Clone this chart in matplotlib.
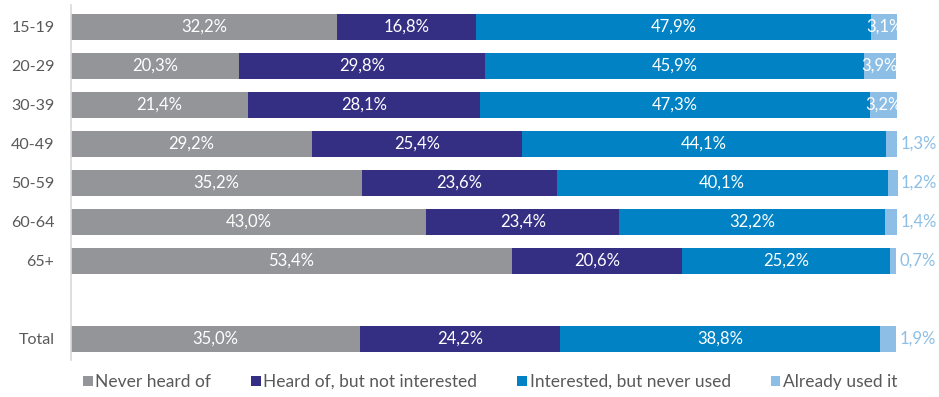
import numpy as np
import matplotlib
matplotlib.use('Agg')
import matplotlib.pyplot as plt
from matplotlib.patches import Patch

plt.rcParams['font.family'] = ['Lato', 'DejaVu Sans']

Categories = ['15-19', '20-29', '30-39', '40-49', '50-59', '60-64', '65+', '', 'Total']
NeverHeard = [32.2, 20.3, 21.4, 29.2, 35.2, 43.0, 53.4, 0, 35.0]
NotInterested = [16.8, 29.8, 28.1, 25.4, 23.6, 23.4, 20.6, 0, 24.2]
NeverUsed = [47.9, 45.9, 47.3, 44.1, 40.1, 32.2, 25.2, 0, 38.8]
AlreadyUsed = [3.1, 3.9, 3.2, 1.3, 1.2, 1.4, 0.7, 0, 1.9]
SeriesNames = ['Never heard of', 'Heard of, but not interested', 'Interested, but never used', 'Already used it']
Colors = ['#939598', '#352F84', '#0082C4', '#8DBFE6']

fig = plt.figure(figsize=(9.39, 3.97), dpi=100)
ax = fig.add_axes([71/939, 1-360/397, 1-71/939, 355/397])

y = np.arange(len(Categories))
left = np.zeros(len(Categories))
for i, vals in enumerate([NeverHeard, NotInterested, NeverUsed, AlreadyUsed]):
    vals = np.array(vals)
    ax.barh(y, vals, left=left, height=0.66, color=Colors[i], edgecolor='none')
    for j, v in enumerate(vals):
        if v == 0:
            continue
        lab = ('%.1f%%' % v).replace('.', ',')
        if i < 3 or v >= 3:
            ax.text(left[j] + v/2, y[j], lab, ha='center', va='center', color='white', fontsize=12)
        else:
            ax.text(left[j] + v + 0.4, y[j], lab, ha='left', va='center', color=Colors[3], fontsize=12)
    left += vals

ax.set_ylim(8.54, -0.56)
ax.set_xlim(0, 105.1)
ax.set_yticks(y)
ax.set_yticklabels(Categories, fontsize=11.5, color='#595959')
ax.tick_params(axis='y', length=0, pad=12)
ax.set_xticks([])
for s in ['top', 'right', 'bottom']:
    ax.spines[s].set_visible(False)
ax.spines['left'].set_color('#D9D9D9')
ax.spines['left'].set_linewidth(1.2)

handles = [Patch(facecolor=c, edgecolor='none') for c in Colors]
fig.legend(handles, SeriesNames, loc='center', bbox_to_anchor=(0.522, 1-382/397), ncol=4,
           frameon=False, fontsize=12.5, handlelength=0.55, handleheight=0.55, handletextpad=0.15,
           columnspacing=2.3, labelcolor='#595959')

fig.savefig('out.png', dpi=100)
